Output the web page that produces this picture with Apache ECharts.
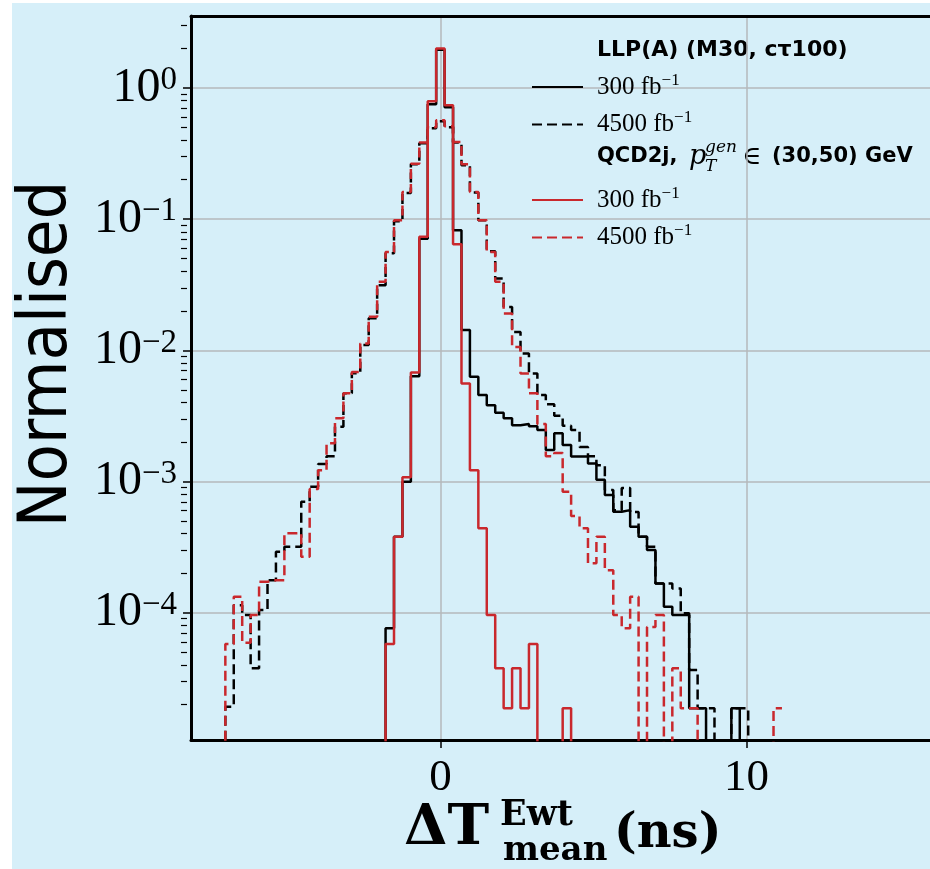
<!DOCTYPE html>
<html><head><meta charset="utf-8">
<script src="https://cdn.jsdelivr.net/npm/echarts@6/dist/echarts.min.js"></script>
<style>
html,body{margin:0;padding:0;background:#fff;width:930px;height:869px;overflow:hidden}
#bg{position:absolute;left:12px;top:3px;right:0;bottom:0;background:#d6eff9}
#chart{position:absolute;left:0;top:0;width:930px;height:869px}
</style></head><body><div id="bg"></div><div id="chart"></div>
<script>
// histogram binning (bins centred on k*binWidth, k = firstBin .. firstBin+66)
const binWidth = 0.2756;
const firstBin = -26;

// LLP(A) (M30, ctau100), 300 fb^-1
const llp300 = [
  0,0,0,0,0,0,0,0,0,0,0,0,0,0,0,0,0,0,0,0,
  7.6e-5, 3.79e-4, 9.95e-4, 6.35e-3, 7.08e-2, 0.752,
  1.96, 0.713, 8.24e-2, 1.43e-2, 6.28e-3, 4.56e-3, 3.82e-3, 3.34e-3, 3.03e-3, 2.69e-3,
  2.74e-3, 2.64e-3, 2.47e-3, 1.74e-3, 2.33e-3, 1.90e-3, 1.55e-3, 1.55e-3, 1.37e-3, 1.03e-3,
  7.89e-4, 5.89e-4, 6.05e-4, 4.52e-4, 3.79e-4, 3.01e-4, 1.67e-4, 1.11e-4, 9.59e-5, 9.59e-5,
  1.87e-5, 1.87e-5, 0, 0, 0, 1.87e-5, 0, 0, 0, 0, 0
];
// LLP(A), 4500 fb^-1
const llp4500 = [
  0, 1.92e-5, 1.14e-4, 9.59e-5, 3.77e-5, 1.05e-4, 1.77e-4, 2.92e-4, 3.18e-4, 3.18e-4,
  7.01e-4, 9.12e-4, 1.36e-3, 1.56e-3, 2.61e-3, 4.70e-3, 6.70e-3, 1.10e-2, 1.76e-2, 3.14e-2,
  5.50e-2, 9.64e-2, 0.158, 0.262, 0.379, 0.493,
  0.557, 0.502, 0.385, 0.258, 0.160, 9.82e-2, 5.70e-2, 3.53e-2, 2.14e-2, 1.38e-2,
  9.46e-3, 6.67e-3, 4.56e-3, 3.89e-3, 3.17e-3, 2.66e-3, 2.47e-3, 1.83e-3, 1.56e-3, 1.33e-3,
  8.61e-4, 6.05e-4, 8.91e-4, 5.85e-4, 3.79e-4, 3.18e-4, 1.67e-4, 1.67e-4, 1.53e-4, 9.89e-5,
  3.66e-5, 1.87e-5, 1.87e-5, 0, 0, 1.87e-5, 1.87e-5, 0, 0, 0, 0
];
// QCD2j, 300 fb^-1
const qcd300 = [
  0,0,0,0,0,0,0,0,0,0,0,0,0,0,0,0,0,0,0,0,
  5.78e-5, 3.79e-4, 1.08e-3, 6.79e-3, 7.33e-2, 0.792,
  2.00, 0.738, 6.44e-2, 5.60e-3, 1.22e-3, 4.40e-4, 9.59e-5, 3.77e-5, 1.87e-5, 3.77e-5,
  1.87e-5, 5.78e-5, 0, 0, 0, 1.87e-5, 0, 0, 0, 0,
  0, 0, 0, 0, 0, 0, 0, 0, 0, 0,
  0, 0, 0, 0, 0, 0, 0, 0, 0, 0, 0
];
// QCD2j, 4500 fb^-1
const qcd4500 = [
  0, 5.78e-5, 1.32e-4, 5.89e-5, 9.59e-5, 1.72e-4, 1.77e-4, 1.77e-4, 4.03e-4, 4.05e-4,
  2.67e-4, 8.77e-4, 1.22e-3, 1.96e-3, 3.03e-3, 4.70e-3, 6.85e-3, 1.13e-2, 1.80e-2, 3.33e-2,
  5.62e-2, 9.82e-2, 0.161, 0.265, 0.385, 0.502,
  0.568, 0.511, 0.388, 0.262, 0.161, 9.82e-2, 5.62e-2, 3.33e-2, 1.91e-2, 1.06e-2,
  6.67e-3, 4.70e-3, 2.74e-3, 1.56e-3, 1.65e-3, 8.36e-4, 5.46e-4, 4.40e-4, 2.38e-4, 3.79e-4,
  2.11e-4, 9.59e-5, 7.60e-5, 1.32e-4, 0, 7.78e-5, 9.59e-5, 0, 3.77e-5, 1.87e-5,
  1.87e-5, 0, 0, 0, 0, 0, 0, 0, 0, 0, 1.87e-5
];

const xTicks = [0, 10];
const yTicks = [1e-4, 1e-3, 1e-2, 1e-1, 1];
const yTickExp = ['\u22124', '\u22123', '\u22122', '\u22121', '0'];
const minorMantissa = [2, 3, 4, 5, 6, 7, 8, 9];
const minorDecades = [1e-5, 1e-4, 1e-3, 1e-2, 1e-1, 1];
const xMin = -8.15, xMax = 16.0;
const yMin = 1.07e-5, yMax = 3.54;

const legendNames = {
  'LLP 300': '300 fb', 'LLP 4500': '4500 fb',
  'QCD 300': '300 fb', 'QCD 4500': '4500 fb'
};

const BLACK = '#000000', RED = '#c9282d';
const ZERO_FLOOR = 1e-8; // empty bins fall below the axis floor

function stepData(vals) {
  const out = [];
  for (let i = 0; i < vals.length; i++) {
    const edge = (firstBin + i - 0.5) * binWidth;
    out.push([edge, vals[i] > 0 ? vals[i] : ZERO_FLOOR]);
  }
  const last = vals[vals.length - 1];
  out.push([(firstBin + vals.length - 0.5) * binWidth, last > 0 ? last : ZERO_FLOOR]);
  return out;
}

const minorTicks = [];
minorDecades.forEach(d => minorMantissa.forEach(m => {
  const v = m * d;
  if (v > yMin && v < yMax) minorTicks.push(v);
}));

function mkSeries(name, vals, color, dashed) {
  return {
    name, type: 'line', step: 'end', data: stepData(vals),
    symbol: 'none', showSymbol: false, clip: true,
    lineStyle: { color, width: 2.5, type: dashed ? [10, 5] : 'solid' },
    itemStyle: { color },
    emphasis: { disabled: true },
    xAxisIndex: 0, yAxisIndex: 0
  };
}

const serif = 'Liberation Serif';
const legendText = {
  color: '#000',
  padding: [0, 0, 0, 9],
  rich: {
    n: { fontFamily: serif, fontSize: 25, lineHeight: 30, color: '#000' },
    s: { fontFamily: serif, fontSize: 17, lineHeight: 16, verticalAlign: 'top', color: '#000' }
  }
};
const legendFmt = name => '{n|' + legendNames[name] + '}{s|\u22121}';
const legendCommon = {
  orient: 'vertical', left: 526, itemWidth: 51, itemHeight: 14, itemGap: 10,
  formatter: legendFmt, textStyle: legendText, selectedMode: false,
  itemStyle: { opacity: 0 }
};

const GRID_LEFT = 191, GRID_RIGHT_EDGE = 934;

const chart = echarts.init(document.getElementById('chart'), null, { renderer: 'canvas' });
chart.setOption({
  animation: false,
  backgroundColor: 'transparent',
  grid: { left: GRID_LEFT, top: 16, right: 930 - GRID_RIGHT_EDGE, bottom: 129, containLabel: false },
  xAxis: [{
    type: 'value', min: xMin, max: xMax, position: 'bottom',
    axisLine: { show: true, onZero: false, lineStyle: { color: '#000', width: 3 } },
    axisTick: { show: true, customValues: xTicks, length: 8, lineStyle: { color: '#000', width: 1.5 } },
    axisLabel: { show: true, customValues: xTicks, margin: 16, fontFamily: serif, fontSize: 45, color: '#000' },
    splitLine: { show: true, lineStyle: { color: '#b4b9bb', width: 1.5 } }
  }, {
    type: 'value', min: xMin, max: xMax, position: 'top',
    axisLine: { show: true, onZero: false, lineStyle: { color: '#000', width: 3 } },
    axisTick: { show: false }, axisLabel: { show: false }, splitLine: { show: false }
  }],
  yAxis: [{
    type: 'log', logBase: 10, min: yMin, max: yMax, position: 'left',
    axisLine: { show: true, onZero: false, lineStyle: { color: '#000', width: 3 } },
    axisTick: { show: true, customValues: yTicks, length: 8, lineStyle: { color: '#000', width: 1.5 } },
    axisLabel: {
      show: true, customValues: yTicks, margin: 14, color: '#000',
      formatter: v => {
        const i = yTicks.findIndex(t => Math.abs(Math.log10(t) - Math.log10(v)) < 1e-6);
        return '{b|10}{s|' + (i >= 0 ? yTickExp[i] : '') + '}';
      },
      rich: {
        b: { fontFamily: serif, fontSize: 48, lineHeight: 48, color: '#000' },
        s: { fontFamily: serif, fontSize: 33, lineHeight: 31, verticalAlign: 'top', color: '#000' }
      }
    },
    splitLine: { show: true, lineStyle: { color: '#b4b9bb', width: 1.5 } }
  }, {
    // minor ticks: placed on the right slot, shifted back onto the left frame edge
    type: 'log', logBase: 10, min: yMin, max: yMax, position: 'right',
    offset: -(GRID_RIGHT_EDGE - GRID_LEFT),
    axisLine: { show: false, onZero: false },
    axisTick: { show: true, inside: true, customValues: minorTicks, length: 6, lineStyle: { color: '#000', width: 1.2 } },
    axisLabel: { show: false }, splitLine: { show: false }
  }],
  legend: [
    Object.assign({ data: ['LLP 300', 'LLP 4500'], top: 67 }, legendCommon),
    Object.assign({ data: ['QCD 300', 'QCD 4500'], top: 180 }, legendCommon)
  ],
  graphic: [
    { type: 'text', x: 48, y: 354, rotation: Math.PI / 2, style: { text: 'Normalised', font: '68px "DejaVu Sans Condensed"', fill: '#000', align: 'center', verticalAlign: 'middle' } },
    { type: 'text', x: 597, y: 50, style: { text: 'LLP(A) (M30, c\u03c4100)', font: 'bold 22px "DejaVu Sans"', fill: '#000', verticalAlign: 'middle' } },
    { type: 'text', x: 597, y: 157, style: { text: 'QCD2j,', font: 'bold 21px "DejaVu Sans"', fill: '#000', verticalAlign: 'middle' } },
    { type: 'text', x: 689, y: 157, style: { text: 'p', font: 'italic 27px "DejaVu Serif"', fill: '#000', verticalAlign: 'middle' } },
    { type: 'text', x: 705, y: 148, style: { text: 'gen', font: 'italic 17px "DejaVu Serif"', fill: '#000', verticalAlign: 'middle' } },
    { type: 'text', x: 705, y: 167, style: { text: 'T', font: 'italic 17px "DejaVu Serif"', fill: '#000', verticalAlign: 'middle' } },
    { type: 'text', x: 742, y: 157, style: { text: '\u2208', font: '26px "DejaVu Serif"', fill: '#000', verticalAlign: 'middle' } },
    { type: 'text', x: 772, y: 157, style: { text: '(30,50) GeV', font: 'bold 21px "DejaVu Sans"', fill: '#000', verticalAlign: 'middle' } },
    { type: 'text', x: 404, y: 829, style: { text: '\u0394T', font: 'bold 56px "DejaVu Serif"', fill: '#000', verticalAlign: 'middle' } },
    { type: 'text', x: 500, y: 816, style: { text: 'Ewt', font: 'bold 35px "DejaVu Serif"', fill: '#000', verticalAlign: 'middle' } },
    { type: 'text', x: 503, y: 851, style: { text: 'mean', font: 'bold 34px "DejaVu Serif"', fill: '#000', verticalAlign: 'middle' } },
    { type: 'text', x: 614, y: 835, style: { text: '(ns)', font: 'bold 48px "DejaVu Serif"', fill: '#000', verticalAlign: 'middle' } }
  ],
  series: [
    mkSeries('LLP 300', llp300, BLACK, false),
    mkSeries('LLP 4500', llp4500, BLACK, true),
    mkSeries('QCD 300', qcd300, RED, false),
    mkSeries('QCD 4500', qcd4500, RED, true)
  ]
});
</script>
</body></html>
